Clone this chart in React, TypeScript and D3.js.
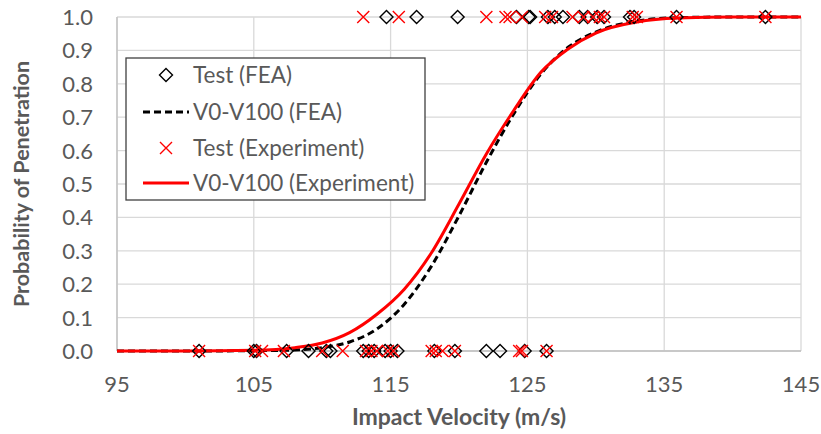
import React from 'react'
import * as d3 from 'd3'

// test shots that penetrated (plotted at 1.0)
const feaPenetrated = [114.7, 116.9, 119.9, 124.2, 125.1, 125.2, 126.5, 127.0, 127.6, 128.8, 129.4, 130.1, 130.6, 132.5, 132.8, 135.9, 142.4]
const expPenetrated = [113.0, 115.6, 122.0, 123.4, 123.7, 124.6, 126.3, 126.8, 128.3, 129.1, 129.8, 130.3, 130.6, 132.7, 133.0, 135.9, 142.4]
// test shots that did not penetrate (plotted at 0.0)
const feaStopped = [101.0, 105.0, 105.2, 107.4, 109.0, 110.3, 110.6, 113.0, 113.4, 113.8, 114.6, 115.0, 115.5, 118.2, 119.7, 122.0, 123.0, 124.8, 126.4]
const expStopped = [101.0, 105.1, 105.6, 107.2, 110.0, 111.5, 113.2, 113.6, 114.0, 114.8, 115.2, 118.0, 118.3, 118.8, 119.7, 124.4, 124.6, 126.4]

// V0-V100 curves
const curveV = [95, 100, 105, 108, 110, 112, 114, 116, 118, 120, 122, 124, 126, 128, 130, 133, 136, 140, 145]
const curveFEA = [0, 0, 0.001, 0.003, 0.01, 0.027, 0.066, 0.14, 0.255, 0.405, 0.565, 0.71, 0.83, 0.91, 0.955, 0.988, 0.998, 1, 1]
const curveExp = [0, 0, 0.002, 0.01, 0.024, 0.055, 0.11, 0.185, 0.295, 0.44, 0.59, 0.72, 0.835, 0.905, 0.952, 0.985, 0.997, 1, 1]

const xTicks = [95, 105, 115, 125, 135, 145]
const yTicks = [0, 0.1, 0.2, 0.3, 0.4, 0.5, 0.6, 0.7, 0.8, 0.9, 1.0]
const legendLabels = ['Test (FEA)', 'V0-V100 (FEA)', 'Test (Experiment)', 'V0-V100 (Experiment)']

const W = 821
const H = 434
const margin = { left: 117, right: 20, top: 17, bottom: 83 }
const font = 'Lato, "Open Sans", sans-serif'
const grey = '#595959'

const x = d3.scaleLinear().domain([95, 145]).range([margin.left, W - margin.right])
const y = d3.scaleLinear().domain([0, 1]).range([H - margin.bottom, margin.top])

const line = d3
  .line<[number, number]>()
  .x(d => x(d[0]))
  .y(d => y(d[1]))
  .curve(d3.curveMonotoneX)

const Diamond = ({ cx, cy }: { cx: number; cy: number }) => (
  <path
    d={`M${cx},${cy - 6.5}L${cx + 6.5},${cy}L${cx},${cy + 6.5}L${cx - 6.5},${cy}Z`}
    fill='none'
    stroke='#000'
    strokeWidth={1.4}
  />
)
const Cross = ({ cx, cy }: { cx: number; cy: number }) => (
  <path
    d={`M${cx - 6},${cy - 6}L${cx + 6},${cy + 6}M${cx - 6},${cy + 6}L${cx + 6},${cy - 6}`}
    stroke='#ff0000'
    strokeWidth={1.4}
  />
)

const App = () => {
  const feaPath = line(curveV.map((v, i) => [v, curveFEA[i]]))
  const expPath = line(curveV.map((v, i) => [v, curveExp[i]]))
  const left = margin.left
  const right = W - margin.right
  const top = margin.top
  const bottom = H - margin.bottom

  const lg = { x: 126, y: 58, w: 299, h: 142 }
  const rowY = [75, 112, 148, 183]

  return (
    <svg width={W} height={H} style={{ position: 'absolute', left: 0, top: 0, background: '#fff' }} fontFamily={font}>
      <rect width={W} height={H} fill='#fff' />
      {/* grid */}
      {yTicks.map(t => (
        <line key={'gy' + t} x1={left} x2={right} y1={y(t)} y2={y(t)} stroke='#d9d9d9' strokeWidth={1.3} />
      ))}
      {xTicks.map(t => (
        <line key={'gx' + t} x1={x(t)} x2={x(t)} y1={top} y2={bottom} stroke='#d9d9d9' strokeWidth={1.3} />
      ))}
      <line x1={left} x2={left} y1={top} y2={bottom} stroke='#bfbfbf' strokeWidth={1.3} />
      <line x1={left} x2={right} y1={bottom} y2={bottom} stroke='#bfbfbf' strokeWidth={1.3} />

      {/* tick labels */}
      {yTicks.map(t => (
        <text key={'ty' + t} x={93} y={y(t)} dy='0.36em' textAnchor='end' fontSize={22} fill={grey}>
          {d3.format('.1f')(t)}
        </text>
      ))}
      {xTicks.map(t => (
        <text key={'tx' + t} x={x(t)} y={392} textAnchor='middle' fontSize={22} fill={grey}>
          {t}
        </text>
      ))}
      <text x={(left + right) / 2} y={425} textAnchor='middle' fontSize={23} fontWeight='bold' fill={grey}>
        Impact Velocity (m/s)
      </text>
      <text
        transform={`translate(29,${(top + bottom) / 2}) rotate(-90)`}
        textAnchor='middle'
        fontSize={21.5}
        fontWeight='bold'
        fill={grey}
      >
        Probability of Penetration
      </text>

      {/* curves */}
      <path d={feaPath ?? ''} fill='none' stroke='#000' strokeWidth={3} strokeDasharray='7,4' />
      <path d={expPath ?? ''} fill='none' stroke='#ff0000' strokeWidth={3} />

      {/* markers */}
      {feaStopped.map((v, i) => <Diamond key={'fs' + i} cx={x(v)} cy={y(0)} />)}
      {feaPenetrated.map((v, i) => <Diamond key={'fp' + i} cx={x(v)} cy={y(1)} />)}
      {expStopped.map((v, i) => <Cross key={'es' + i} cx={x(v)} cy={y(0)} />)}
      {expPenetrated.map((v, i) => <Cross key={'ep' + i} cx={x(v)} cy={y(1)} />)}

      {/* legend */}
      <rect x={lg.x} y={lg.y} width={lg.w} height={lg.h} fill='#fff' stroke='#404040' strokeWidth={1.3} />
      <Diamond cx={166} cy={rowY[0]} />
      <line x1={143} x2={189} y1={rowY[1]} y2={rowY[1]} stroke='#000' strokeWidth={3} strokeDasharray='7,4' />
      <Cross cx={166} cy={rowY[2]} />
      <line x1={143} x2={189} y1={rowY[3]} y2={rowY[3]} stroke='#ff0000' strokeWidth={3} />
      {legendLabels.map((s, i) => (
        <text key={s} x={193} y={rowY[i]} dy='0.36em' fontSize={22.5} fill={grey}>
          {s}
        </text>
      ))}
    </svg>
  )
}

export default App
